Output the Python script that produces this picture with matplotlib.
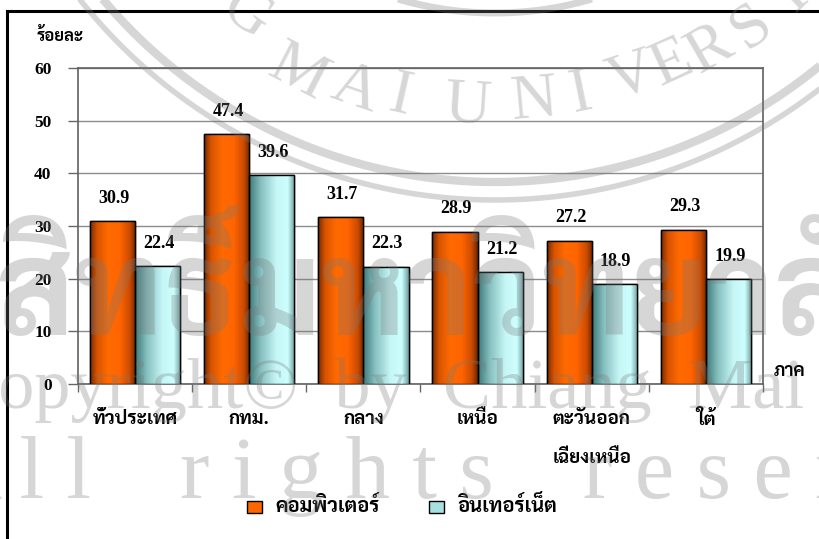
import glob
import numpy as np
import matplotlib
matplotlib.use('Agg')
import matplotlib.pyplot as plt
from matplotlib import font_manager
from matplotlib.font_manager import FontProperties
from matplotlib.colors import LinearSegmentedColormap
from matplotlib.patches import Patch
from matplotlib.lines import Line2D

# data
regions = ['ทั่วประเทศ', 'กทม.', 'กลาง', 'เหนือ', 'ตะวันออก\nเฉียงเหนือ', 'ใต้']
computer = [30.9, 47.4, 31.7, 28.9, 27.2, 29.3]
internet = [22.4, 39.6, 22.3, 21.2, 18.9, 19.9]
series_names = ['คอมพิวเตอร์', 'อินเทอร์เน็ต']
y_ticks = [0, 10, 20, 30, 40, 50, 60]

W, H = 820, 539


def thai_font(name='Sarabun-Bold.ttf'):
    hits = glob.glob('/usr/share/fonts/**/' + name, recursive=True)
    if hits:
        return hits[0]
    for f in font_manager.findSystemFonts():
        if 'Sarabun' in f or 'Thai' in f:
            return f
    return None


th_path = thai_font()
if th_path:
    font_manager.fontManager.addfont(th_path)
th = FontProperties(fname=th_path) if th_path else FontProperties(family='DejaVu Sans')
num = FontProperties(family='Liberation Serif', weight='bold')


def fx(px):
    return np.asarray(px) / W


def fy(py):
    return 1 - np.asarray(py) / H


fig = plt.figure(figsize=(8.2, 5.39), dpi=100)
ax = fig.add_axes([fx(78), fy(384), fx(763 - 78), (384 - 68) / H])

x = np.arange(len(regions)) + 0.5
w = 0.395
b1 = ax.bar(x - w/2, computer, width=w, color='#ff6600', edgecolor='black', linewidth=1, zorder=3)
b2 = ax.bar(x + w/2, internet, width=w, color='#c8f8f8', edgecolor='black', linewidth=1, zorder=3)

# cylinder-like shading across each bar
org = LinearSegmentedColormap.from_list('org', [(0, '#7a2a00'), (0.15, '#d85400'), (0.4, '#ff6a00'),
                                                (0.65, '#ff6400'), (0.87, '#cc4c00'), (1, '#6e2600')])
cyn = LinearSegmentedColormap.from_list('cyn', [(0, '#3f7a7a'), (0.25, '#86bebe'), (0.6, '#c6f6f6'),
                                                (0.85, '#cdffff'), (1, '#6f9f9f')])
grad = np.linspace(0, 1, 64).reshape(1, -1)
for bars, cm in ((b1, org), (b2, cyn)):
    for p in bars:
        x0, y0 = p.get_x(), p.get_y()
        im = ax.imshow(grad, cmap=cm, extent=(x0, x0 + p.get_width(), y0, y0 + p.get_height()),
                       aspect='auto', zorder=3.5, interpolation='bilinear')
        im.set_clip_path(p)
        ax.add_patch(plt.Rectangle((x0, y0), p.get_width(), p.get_height(), fill=False,
                                   edgecolor='black', linewidth=1, zorder=4))

for bars, vals in ((b1, computer), (b2, internet)):
    for p, v in zip(bars, vals):
        ax.annotate(f'{v:.1f}', (p.get_x() + p.get_width()/2, v), xytext=(1, 16.5),
                    textcoords='offset points', ha='center', va='center',
                    fontproperties=num, fontsize=13, zorder=5)

ax.set_xlim(0, len(regions))
ax.set_ylim(0, 60)
ax.set_yticks(y_ticks)
ax.set_yticklabels([str(t) for t in y_ticks], fontproperties=num, fontsize=12.5)
ax.tick_params(axis='y', length=7, width=1, color='#666666', pad=12)
ax.set_xticks(np.arange(len(regions) + 1))
ax.set_xticklabels([])
ax.tick_params(axis='x', which='major', length=6, width=1, color='#666666')
ax.set_xticks(x, minor=True)
ax.set_xticklabels(regions, minor=True, fontproperties=th, fontsize=13.5, linespacing=2.5)
ax.tick_params(axis='x', which='minor', length=0, pad=19)
ax.grid(axis='y', color='#8c8c8c', linewidth=1, zorder=0)
ax.set_axisbelow(True)
for s in ax.spines.values():
    s.set_color('#606060')
    s.set_linewidth(1.2)

fig.text(fx(37), fy(36), 'ร้อยละ', fontproperties=th, fontsize=12, va='center', ha='left')
fig.text(fx(774), fy(372), 'ภาค', fontproperties=th, fontsize=13, va='center', ha='left')

handles = [Patch(facecolor='#ff6600', edgecolor='black'), Patch(facecolor='#a8e0e0', edgecolor='black')]
leg = fig.legend(handles, series_names, loc='center', bbox_to_anchor=(fx(402), fy(505)), ncol=2,
                 frameon=False, prop=th, handlelength=1.1, handleheight=1.0,
                 columnspacing=3.5, handletextpad=0.95)
for tx in leg.get_texts():
    tx.set_fontsize(14.5)

# page frame
fig.add_artist(Line2D([fx(7), fx(7)], [0, fy(11)], color='black', linewidth=2.2))
fig.add_artist(Line2D([fx(7), 1], [fy(11), fy(11)], color='black', linewidth=2.2))

# watermark: seal rings and arc lettering (pixel layout, drawn over the chart)
wm_gray = '#7a7a7a'
wm = dict(color=wm_gray, alpha=0.3, zorder=10)
cx, cy, r_txt = 495, -330, 430
ang = np.linspace(-1.2, 1.2, 400)
for rr, lw in ((343, 5), (512, 6), (530, 4)):
    fig.add_artist(Line2D(fx(cx + rr*np.sin(ang)), fy(cy + rr*np.cos(ang)), linewidth=lw,
                          solid_capstyle='butt', **wm))
seal = [('G', 246, -10), ('M', 297, 18), ('A', 355, 10), ('I', 400, 4), ('U', 468, 4), ('N', 534, 0),
        ('I', 581, 0), ('V', 631, -4), ('E', 672, -2), ('R', 710, 4), ('S', 752, 8), ('I', 792, 10),
        ('T', 830, 10)]
for ch, lx, dy in seal:
    phi = np.arcsin((lx - cx) / r_txt)
    ly = cy + r_txt * np.cos(phi) + 4 + dy
    fig.text(fx(lx), fy(ly), ch, family='Liberation Serif', fontsize=46, ha='center', va='center',
             rotation=np.degrees(phi), rotation_mode='anchor', **wm)

fig.text(fx(-165), fy(335), 'ลิขสิทธิ์มหาวิทยาลัยเชียงใหม่', fontproperties=th, fontsize=94,
         ha='left', va='baseline', **wm)
fig.text(fx(548), fy(408), 'Copyright©  by  Chiang  Mai  University', family='Liberation Serif',
         fontsize=52, ha='center', va='baseline', **wm)
fig.text(fx(-62), fy(498), 'A l l    r i g h t s    r e s e r v e d', family='Liberation Serif',
         fontsize=64, ha='left', va='baseline', **wm)

fig.savefig('out.png', dpi=100)
